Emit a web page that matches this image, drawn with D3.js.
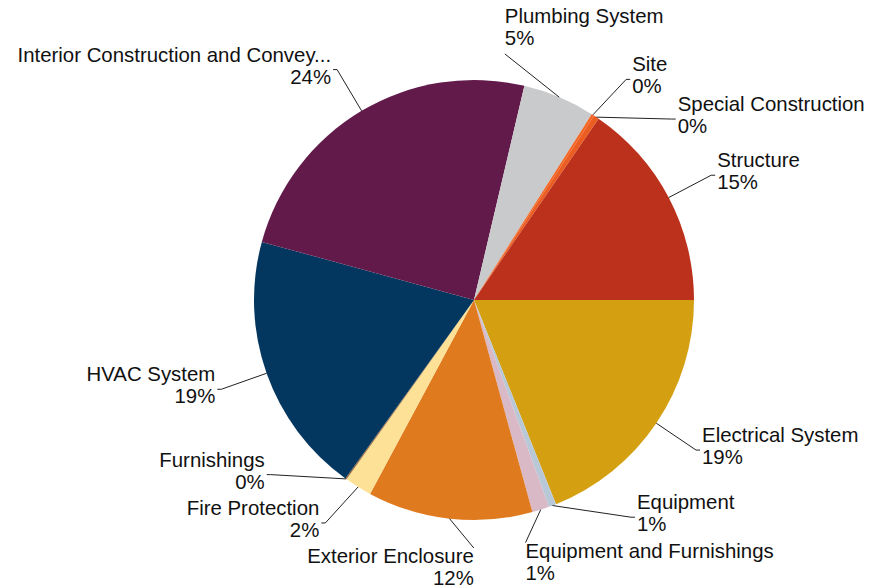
<!DOCTYPE html>
<html>
<head>
<meta charset="utf-8">
<script src="https://cdn.jsdelivr.net/npm/d3@7"></script>
<style>
  body { margin: 0; background: #fff; }
  text { font-family: "Liberation Sans", Arial, sans-serif; font-size: 20.4px; fill: #111; }
</style>
</head>
<body>
<svg id="chart" width="884" height="588"></svg>
<script>
// slice data, in drawing order (clockwise from 3 o'clock)
var categories = [
  "Electrical System", "Equipment", "Equipment and Furnishings", "Exterior Enclosure",
  "Fire Protection", "Furnishings", "HVAC System", "Interior Construction and Conveying",
  "Plumbing System", "Site", "Special Construction", "Structure"
];
var values = [18.9, 0.55, 1.25, 12.1, 2.0, 0.1, 19.3, 24.4, 5.3, 0.2, 0.4, 15.4];
var colors = [
  "#d4a012", "#b8c8d6", "#d8b9c5", "#e07a1f",
  "#fde196", "#9c6b3a", "#03375f", "#611a4a",
  "#c9cacc", "#f26522", "#ec5d22", "#bc311b"
];

var cx = 474, cy = 300, radius = 220;
var lineR = 268, cornerR = 248, maxLabelW = 318;
var padX = 10;

var svg = d3.select("#chart");
var total = d3.sum(values);
var data = categories.map(function (c, i) {
  return { name: c, value: values[i], color: colors[i] };
});

var pie = d3.pie()
  .sort(null)
  .value(function (d) { return d.value; })
  .startAngle(Math.PI / 2)
  .endAngle(Math.PI / 2 + 2 * Math.PI);
var arcs = pie(data);
var arc = d3.arc().innerRadius(0).outerRadius(radius);

var g = svg.append("g").attr("transform", "translate(" + cx + "," + cy + ")");
g.selectAll("path.slice")
  .data(arcs)
  .enter()
  .append("path")
  .attr("class", "slice")
  .attr("d", arc)
  .attr("fill", function (d) { return d.data.color; });

// measure / truncate label text
var meas = svg.append("text").attr("x", -1000).attr("y", -1000);
function textW(s) { meas.text(s); return meas.node().getComputedTextLength(); }
function fit(s) {
  if (textW(s) <= maxLabelW) return s;
  var t = s;
  while (t.length > 1 && textW(t + "...") > maxLabelW) t = t.slice(0, -1);
  return t + "...";
}

var labels = arcs.map(function (d) {
  var a = (d.startAngle + d.endAngle) / 2;
  var name = fit(d.data.name);
  var pct = Math.round(d.value / total * 100) + "%";
  return { a0: a, a: a, name: name, pct: pct, w: Math.max(textW(name), textW(pct)) };
});
meas.remove();

function place(l) {
  var s = Math.sin(l.a), c = -Math.cos(l.a);
  l.right = s >= 0;
  if (Math.abs(s) > 0.45) {
    l.side = true;
    l.ax = cx + lineR * s;
    l.ay = cy + lineR * c;
    l.tx = l.right ? l.ax + 6 : l.ax - 6;
    l.y1 = l.ay - 8;
    l.y2 = l.ay + 14;
  } else {
    l.side = false;
    l.ax = cx + cornerR * s;
    l.ay = cy + cornerR * c;
    l.tx = l.ax;
    if (c < 0) { l.y1 = l.ay - 31; l.y2 = l.ay - 9; }
    else { l.y1 = l.ay + 15; l.y2 = l.ay + 37; }
  }
  l.x0 = l.right ? l.tx : l.tx - l.w;
  l.x1 = l.x0 + l.w;
  l.top = l.y1 - 17;
  l.bottom = l.y2 + 9;
}
function overlap(p, q) {
  return p.x0 < q.x1 + padX && q.x0 < p.x1 + padX && p.top < q.bottom && q.top < p.bottom;
}

// push overlapping labels apart along the circle
var step = 0.003;
for (var it = 0; it < 1000; it++) {
  labels.forEach(place);
  var moved = false;
  for (var i = 0; i < labels.length; i++) {
    for (var j = i + 1; j < labels.length; j++) {
      if (overlap(labels[i], labels[j])) {
        labels[i].a -= step;
        labels[j].a += step;
        moved = true;
      }
    }
  }
  if (!moved) break;
}
labels.forEach(place);

var lineGen = d3.line();
svg.selectAll("path.leader")
  .data(labels)
  .enter()
  .append("path")
  .attr("class", "leader")
  .attr("fill", "none")
  .attr("stroke", "#222")
  .attr("stroke-width", 1)
  .attr("d", function (l) {
    var pts = [[cx + radius * Math.sin(l.a0), cy - radius * Math.cos(l.a0)], [l.ax, l.ay]];
    if (l.side) pts.push([l.ax + (l.right ? 4 : -4), l.ay]);
    return lineGen(pts);
  });

var lab = svg.selectAll("g.label")
  .data(labels)
  .enter()
  .append("g")
  .attr("class", "label");
lab.append("text")
  .attr("x", function (l) { return l.tx; })
  .attr("y", function (l) { return l.y1; })
  .attr("text-anchor", function (l) { return l.right ? "start" : "end"; })
  .text(function (l) { return l.name; });
lab.append("text")
  .attr("x", function (l) { return l.tx; })
  .attr("y", function (l) { return l.y2; })
  .attr("text-anchor", function (l) { return l.right ? "start" : "end"; })
  .text(function (l) { return l.pct; });
</script>
</body>
</html>
